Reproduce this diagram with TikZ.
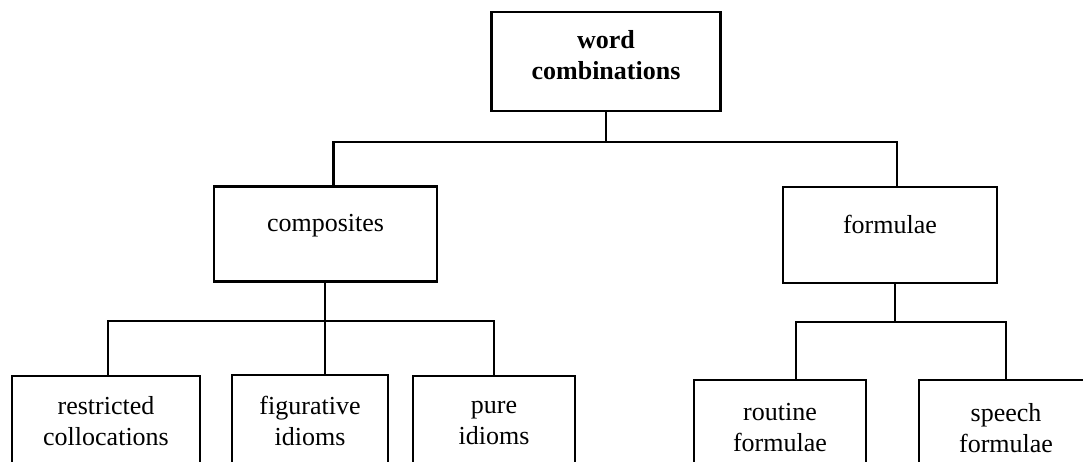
\documentclass[tikz,border=0pt]{standalone}
\usepackage{fontspec}
\setmainfont{Liberation Serif}
\usetikzlibrary{positioning}

\begin{document}
\begin{tikzpicture}
[x=1pt, y=-1pt,
  box/.style  = { draw, line width = 2.2pt, align = center, inner sep = 0pt,
                  font = \fontsize{26}{31}\selectfont },
  link/.style = { line width = 2.6pt }
]

% Frame:
\useasboundingbox (0,0) rectangle (1083,461);
\clip (0,0) rectangle (1083,461);

% Top:
\node[box, font = \fontsize{26}{31}\selectfont\bfseries, text depth = 14pt,
      minimum width = 229pt, minimum height = 99pt] (word) at (606,61.5) {word\\combinations};

% Middle row:
\node[box, text depth = 22pt, minimum width = 223pt, minimum height = 95pt] (comp) at (325.5,234) {composites};
\node[box, text depth = 22pt, minimum width = 214pt, minimum height = 96pt] (form) at (890,235)   {formulae};

% Bottom row (cut off by the page edge):
\node[box, minimum width = 188pt, minimum height = 90pt] (restr)  at (106,421)  {restricted\\collocations};
\node[box, minimum width = 156pt, minimum height = 92pt] (fig)    at (310,421)  {figurative\\idioms};
\node[box, minimum width = 162pt, minimum height = 94pt] (pure)   at (494,423)  {pure\\idioms};
\node[box, minimum width = 172pt, minimum height = 96pt] (rout)   at (780,428)  {routine\\formulae};
\node[box, minimum width = 174pt, minimum height = 96pt] (speech) at (1006,428) {speech\\formulae};

% Bars:
\coordinate (topbar)  at (606,142);
\coordinate (compbar) at (325,321);
\coordinate (formbar) at (895,322);

% Links:
\draw[link] (word) -- (topbar);
\draw[link] ([xshift=8pt]comp.north) |- (topbar) -| ([xshift=7pt]form.north);

\draw[link] (comp.south -| compbar) -- (compbar);
\draw[link] ([xshift=2pt]restr.north) |- (compbar) -| (pure.north);
\draw[link] (compbar) -- ([xshift=15pt]fig.north);

\draw[link] (form.south -| formbar) -- (formbar);
\draw[link] ([xshift=16pt]rout.north) |- (formbar) -| (speech.north);
\end{tikzpicture}
\end{document}
